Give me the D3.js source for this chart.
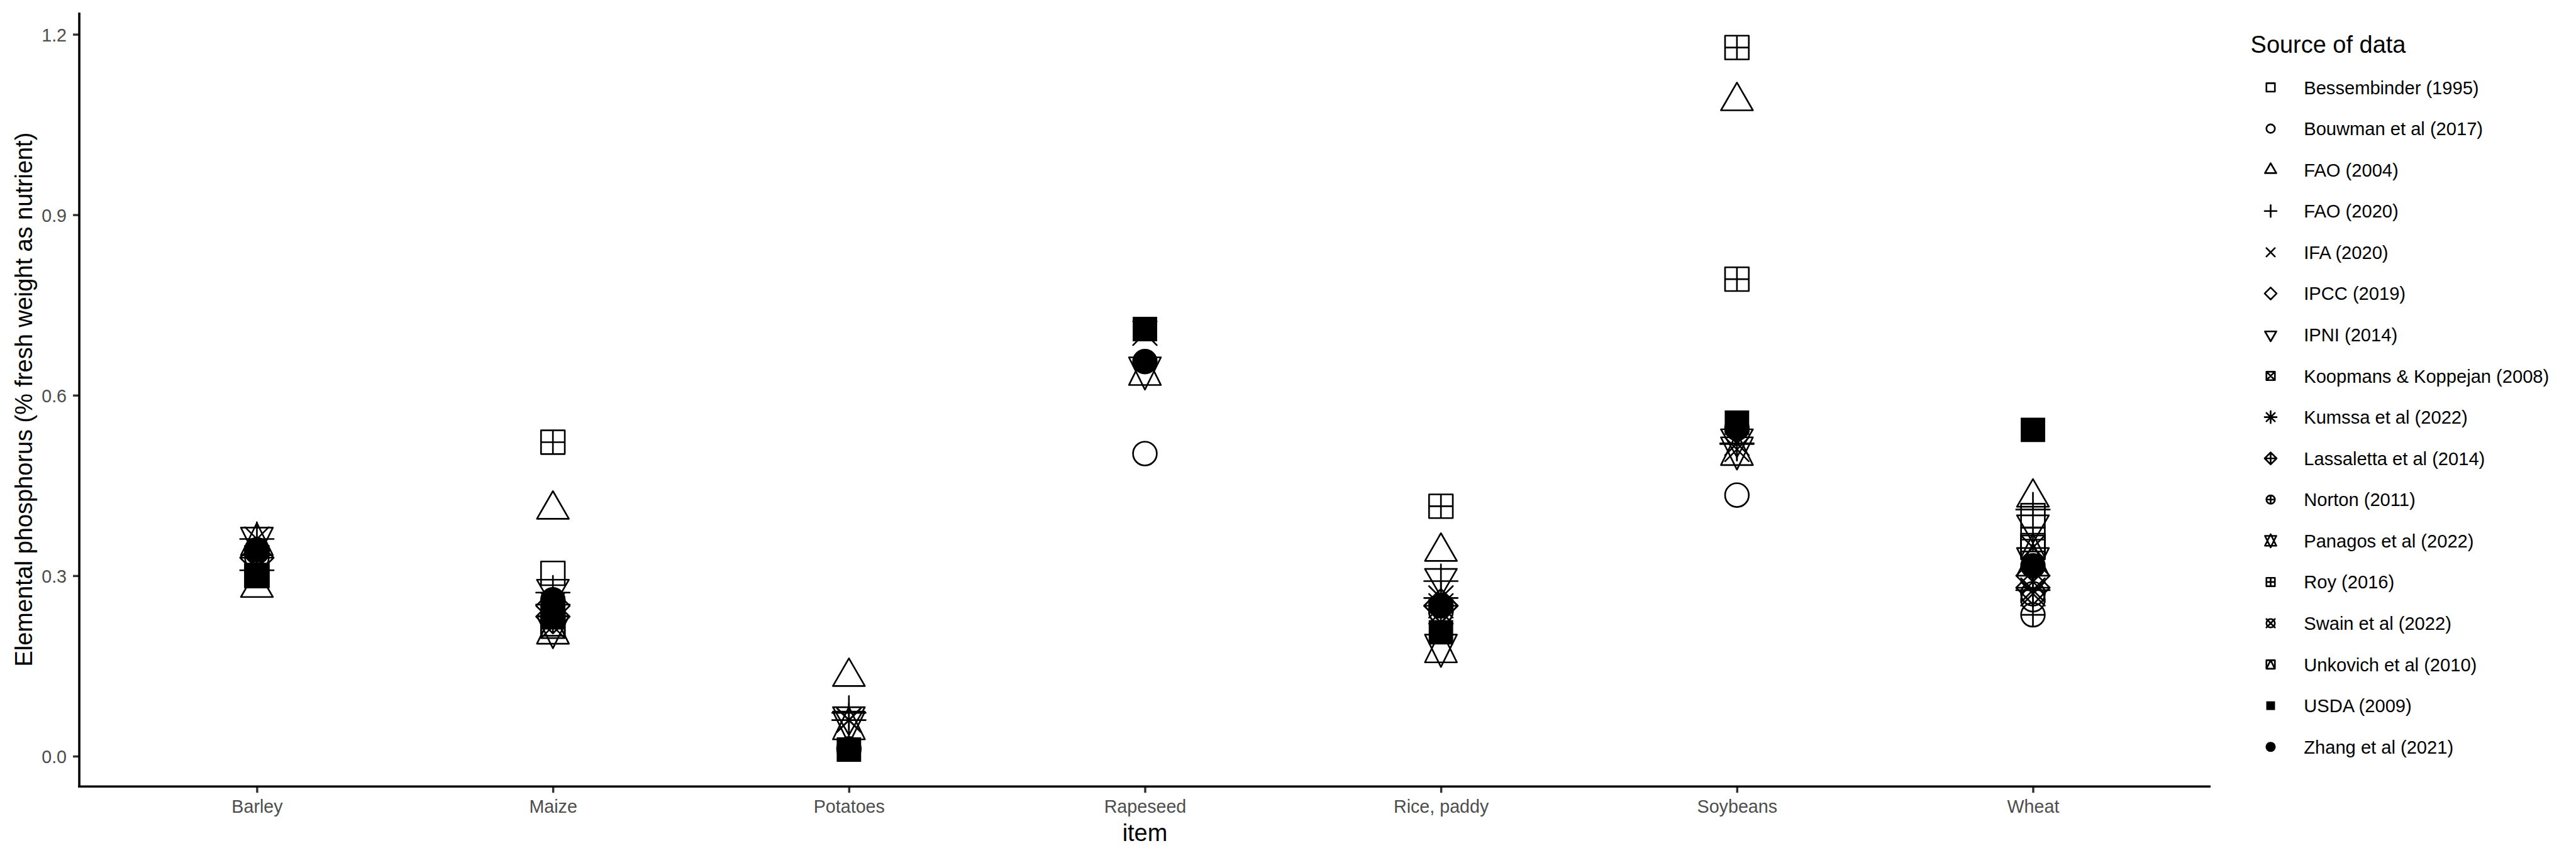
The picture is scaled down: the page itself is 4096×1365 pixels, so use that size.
<!DOCTYPE html>
<html><head><meta charset="utf-8">
<script src="https://cdn.jsdelivr.net/npm/d3@7"></script>
<style>html,body{margin:0;padding:0;background:#fff;} svg{display:block;}</style>
</head><body>
<script>
// ---------------- data ----------------
const items = ["Barley", "Maize", "Potatoes", "Rapeseed", "Rice, paddy", "Soybeans", "Wheat"];
const sources = ["Bessembinder (1995)", "Bouwman et al (2017)", "FAO (2004)", "FAO (2020)", "IFA (2020)",
  "IPCC (2019)", "IPNI (2014)", "Koopmans & Koppejan (2008)", "Kumssa et al (2022)", "Lassaletta et al (2014)",
  "Norton (2011)", "Panagos et al (2022)", "Roy (2016)", "Swain et al (2022)", "Unkovich et al (2010)",
  "USDA (2009)", "Zhang et al (2021)"];
// values per item, in the order of `items` (null = no value; an array = several values)
const bessembinder = [0.30, 0.304, null, null, null, null, 0.40];
const bouwman      = [0.34, 0.25, null, 0.503, 0.24, 0.434, 0.26];
const fao2004      = [0.28, 0.41, 0.132, null, 0.34, 1.089, 0.43];
const fao2020      = [0.309, 0.272, 0.072, null, 0.291, 0.519, 0.41];
const ifa          = [0.33, 0.24, 0.06, 0.703, 0.25, 0.51, 0.29];
const ipcc         = [null, 0.25, null, null, 0.25, null, 0.30];
const ipni         = [null, 0.278, 0.066, null, 0.296, 0.528, 0.385];
const koopmans     = [null, 0.216, null, null, null, null, 0.347];
const kumssa       = [0.361, 0.252, 0.06, null, 0.263, 0.52, 0.276];
const lassaletta   = [0.33, 0.232, null, null, 0.25, null, 0.28];
const norton       = [0.34, 0.24, null, null, 0.25, null, 0.235];
const panagos      = [0.357, 0.21, 0.051, 0.64, 0.179, 0.507, 0.323];
const roy          = [null, 0.522, null, null, 0.4155, [1.178, 0.793], 0.36];
const swain        = [0.33, 0.24, null, null, 0.24, null, 0.27];
const unkovich     = [0.30, 0.22, null, null, null, null, 0.35];
const usda         = [0.301, 0.231, 0.011, 0.71, 0.206, 0.5545, 0.5425];
const zhang        = [0.343, 0.26, 0.012, 0.656, 0.25, 0.545, 0.3165];
const seriesValues = [bessembinder, bouwman, fao2004, fao2020, ifa, ipcc, ipni, koopmans, kumssa,
  lassaletta, norton, panagos, roy, swain, unkovich, usda, zhang];
const yTicks = [0, 0.3, 0.6, 0.9, 1.2];
const yTitle = "Elemental phosphorus (% fresh weight as nutrient)";
const xTitle = "item";
const legendTitle = "Source of data";

// ---------------- layout ----------------
const W = 4500, H = 1500;
const FONT = "'Liberation Sans', Arial, Helvetica, sans-serif";
const panel = {left: 138, right: 3862, top: 22, bottom: 1375};
const S_PLOT = 20.75, S_LEG = 7.4, LW = 2.9;

const svg = d3.select("body").append("svg")
  .attr("width", 4096).attr("height", 1365)
  .attr("viewBox", `0 0 ${W} ${H}`);
svg.append("rect").attr("width", W).attr("height", H).attr("fill", "#fff");

const x = d3.scalePoint().domain(items).range([panel.left, panel.right]).padding(0.6);
const y = d3.scaleLinear().domain([0, 1.2]).range([1322, 60]);

// R pch shapes 0..16
const TRC0 = Math.sqrt(4 * Math.PI / (3 * Math.sqrt(3)));
const TRC1 = TRC0 * Math.sqrt(3) / 2;
const TRC2 = TRC0 / 2;
function shapePath(k, s) {
  const p = d3.path();
  const sq = () => p.rect(-s, -s, 2 * s, 2 * s);
  const circ = () => { p.moveTo(s, 0); p.arc(0, 0, s, 0, 2 * Math.PI); p.closePath(); };
  const plus = L => { p.moveTo(-L, 0); p.lineTo(L, 0); p.moveTo(0, -L); p.lineTo(0, L); };
  const times = L => { p.moveTo(-L, -L); p.lineTo(L, L); p.moveTo(-L, L); p.lineTo(L, -L); };
  const diamond = L => { p.moveTo(0, -L); p.lineTo(L, 0); p.lineTo(0, L); p.lineTo(-L, 0); p.closePath(); };
  const tri = (dir, r, xc, yc) => { p.moveTo(0, -dir * r); p.lineTo(xc, dir * yc); p.lineTo(-xc, dir * yc); p.closePath(); };
  const r = TRC0 * s, xc = TRC1 * s, yc = TRC2 * s;
  const L2 = Math.SQRT2 * s;
  switch (k) {
    case 0: sq(); break;
    case 1: circ(); break;
    case 2: tri(1, r, xc, yc); break;
    case 3: plus(L2); break;
    case 4: times(s); break;
    case 5: diamond(L2); break;
    case 6: tri(-1, r, xc, yc); break;
    case 7: sq(); times(s); break;
    case 8: times(s); plus(L2); break;
    case 9: diamond(L2); plus(L2); break;
    case 10: circ(); plus(s); break;
    case 11: { const y2 = 0.5 * (TRC2 + TRC0) * s; tri(-1, r, xc, y2); tri(1, r, xc, y2); } break;
    case 12: sq(); plus(s); break;
    case 13: circ(); times(s); break;
    case 14: sq(); p.moveTo(0, -s); p.lineTo(s, s); p.lineTo(-s, s); p.closePath(); break;
    case 15: p.rect(-s * 1.03, -s * 1.03, 2.06 * s, 2.06 * s); break;
    case 16: circ(); break;
  }
  return p.toString();
}
function styleShape(sel, k) {
  if (k === 15) sel.attr("fill", "#000").attr("stroke", "none");
  else if (k === 16) sel.attr("fill", "#000").attr("stroke", "#000").attr("stroke-width", LW);
  else sel.attr("fill", "none").attr("stroke", "#000").attr("stroke-width", LW)
          .attr("stroke-linejoin", "round").attr("stroke-linecap", "round");
}

// ---------------- points ----------------
const points = [];
seriesValues.forEach((vals, si) => {
  vals.forEach((v, ii) => {
    if (v === null) return;
    (Array.isArray(v) ? v : [v]).forEach(val => points.push({src: si, item: items[ii], value: val}));
  });
});
const gPts = svg.append("g");
points.forEach(d => {
  gPts.append("path")
    .attr("d", shapePath(d.src, S_PLOT))
    .attr("transform", `translate(${x(d.item)},${y(d.value)})`)
    .call(styleShape, d.src);
});

// ---------------- axes ----------------
const gy = svg.append("g").attr("transform", `translate(${panel.left},0)`)
  .call(d3.axisLeft(y).tickValues(yTicks).tickFormat(d3.format(".1f")).tickSize(11).tickPadding(11));
gy.select(".domain").remove();
gy.attr("font-size", null).attr("font-family", null);
gy.selectAll(".tick line").attr("stroke", "#333").attr("stroke-width", 3.8);
gy.selectAll(".tick text").attr("fill", "#4d4d4d").attr("font-size", 31.5).attr("font-family", FONT).attr("dy", "0.37em");

const gx = svg.append("g").attr("transform", `translate(0,${panel.bottom})`)
  .call(d3.axisBottom(x).tickSize(11).tickPadding(13));
gx.select(".domain").remove();
gx.attr("font-size", null).attr("font-family", null);
gx.selectAll(".tick line").attr("stroke", "#333").attr("stroke-width", 3.8);
gx.selectAll(".tick text").attr("fill", "#4d4d4d").attr("font-size", 31.5).attr("font-family", FONT);

svg.append("line").attr("x1", panel.left).attr("x2", panel.left)
  .attr("y1", panel.top).attr("y2", panel.bottom + 2).attr("stroke", "#000").attr("stroke-width", 4);
svg.append("line").attr("x1", panel.left - 2).attr("x2", panel.right)
  .attr("y1", panel.bottom).attr("y2", panel.bottom).attr("stroke", "#000").attr("stroke-width", 4);

svg.append("text").attr("transform", `translate(55,${(panel.top + panel.bottom) / 2}) rotate(-90)`)
  .attr("text-anchor", "middle").attr("font-family", FONT).attr("font-size", 41.7).attr("fill", "#000")
  .text(yTitle);
svg.append("text").attr("x", (panel.left + panel.right) / 2).attr("y", 1470)
  .attr("text-anchor", "middle").attr("font-family", FONT).attr("font-size", 41.7).attr("fill", "#000")
  .text(xTitle);

// ---------------- legend ----------------
const gL = svg.append("g");
gL.append("text").attr("x", 3932).attr("y", 92.5).attr("font-family", FONT).attr("font-size", 41.7)
  .attr("fill", "#000").text(legendTitle);
sources.forEach((name, i) => {
  const cy = 152.8 + i * 72.06;
  gL.append("path").attr("d", shapePath(i, S_LEG)).attr("transform", `translate(3967,${cy})`).call(styleShape, i);
  gL.append("text").attr("x", 4025).attr("y", cy + 11.6).attr("font-family", FONT).attr("font-size", 32)
    .attr("fill", "#000").text(name);
});
</script>
</body></html>
